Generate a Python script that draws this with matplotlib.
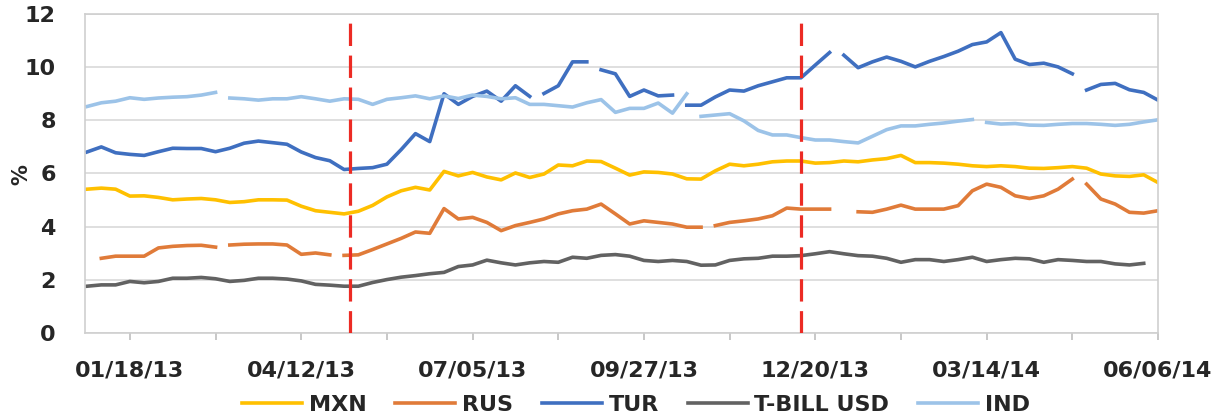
import numpy as np
import pandas as pd
import matplotlib
matplotlib.use("Agg")
from matplotlib import pyplot as plt
import matplotlib.dates as mdates

plt.rcParams['font.family'] = ['DejaVu Sans']
plt.rcParams['font.weight'] = 'bold'

# weekly observations (Fridays)
weeks = pd.date_range("2012-12-28", "2014-06-06", freq="7D")

mxn = [5.41, 5.45, 5.41, 5.15, 5.16, 5.10, 5.01, 5.04, 5.06, 5.01,
       4.91, 4.94, 5.01, 5.01, 5.00, 4.77, 4.60, 4.54, 4.48, 4.58,
       4.80, 5.12, 5.35, 5.48, 5.38, 6.08, 5.91, 6.04, 5.87, 5.76,
       6.02, 5.85, 5.98, 6.32, 6.29, 6.47, 6.45, 6.20, 5.94, 6.06,
       6.04, 5.98, 5.80, 5.79, 6.10, 6.35, 6.29, 6.35, 6.44, 6.47,
       6.47, 6.39, 6.41, 6.47, 6.44, 6.51, 6.56, 6.68, 6.41, 6.41,
       6.39, 6.35, 6.29, 6.26, 6.29, 6.26, 6.20, 6.19, 6.22, 6.26,
       6.20, 5.98, 5.91, 5.89, 5.95, 5.66]

rus = [np.nan, 2.81, 2.89, 2.89, 2.89, 3.20, 3.26, 3.29, 3.30, 3.23,
       3.31, 3.34, 3.35, 3.35, 3.31, 2.96, 3.01, 2.94, 2.92, 2.94,
       3.14, 3.35, 3.56, 3.80, 3.75, 4.68, 4.29, 4.35, 4.16, 3.85,
       4.04, 4.16, 4.29, 4.48, 4.60, 4.66, 4.85, 4.48, 4.10, 4.22,
       4.16, 4.10, 3.98, 3.98, 4.04, 4.16, 4.22, 4.29, 4.41, 4.70,
       4.66, 4.66, 4.66, np.nan, 4.56, 4.54, 4.66, 4.81, 4.66, 4.66,
       4.66, 4.79, 5.35, 5.60, 5.48, 5.16, 5.06, 5.16, 5.41, 5.79,
       5.60, 5.04, 4.85, 4.54, 4.51, 4.60]

tur = [6.81, 7.00, 6.78, 6.72, 6.68, 6.82, 6.95, 6.94, 6.94, 6.82,
       6.95, 7.14, 7.22, 7.16, 7.10, 6.81, 6.60, 6.48, 6.15, 6.19,
       6.22, 6.35, 6.90, 7.50, 7.20, 9.00, 8.60, 8.90, 9.10, 8.72,
       9.30, 8.90, 9.01, 9.30, 10.20, 10.20, 9.90, 9.75, 8.90, 9.14,
       8.92, 8.95, 8.57, 8.57, 8.88, 9.14, 9.10, 9.30, 9.45, 9.60,
       9.60, 10.08, 10.55, 10.45, 9.98, 10.20, 10.38, 10.22, 10.01, 10.22,
       10.40, 10.60, 10.85, 10.95, 11.30, 10.30, 10.10, 10.15, 10.01, 9.75,
       9.14, 9.35, 9.39, 9.15, 9.05, 8.76]

tbill = [1.76, 1.81, 1.81, 1.94, 1.89, 1.94, 2.06, 2.06, 2.09, 2.04,
         1.94, 1.98, 2.06, 2.06, 2.03, 1.96, 1.83, 1.80, 1.76, 1.76,
         1.90, 2.01, 2.10, 2.16, 2.23, 2.28, 2.50, 2.56, 2.74, 2.64,
         2.56, 2.64, 2.69, 2.66, 2.85, 2.81, 2.92, 2.95, 2.89, 2.73,
         2.69, 2.73, 2.69, 2.55, 2.56, 2.73, 2.79, 2.81, 2.89, 2.89,
         2.91, 2.98, 3.06, 2.98, 2.91, 2.89, 2.81, 2.66, 2.76, 2.76,
         2.69, 2.76, 2.85, 2.69, 2.76, 2.81, 2.79, 2.66, 2.76, 2.73,
         2.69, 2.69, 2.60, 2.56, 2.62, np.nan]

ind = [8.52, 8.66, 8.72, 8.85, 8.79, 8.84, 8.87, 8.89, 8.95, 9.05,
       8.84, 8.81, 8.76, 8.81, 8.81, 8.89, 8.81, 8.72, 8.81, 8.79,
       8.60, 8.79, 8.85, 8.92, 8.81, 8.92, 8.82, 8.95, 8.90, 8.81,
       8.85, 8.60, 8.60, 8.55, 8.50, 8.66, 8.78, 8.30, 8.45, 8.45,
       8.65, 8.27, 9.00, 8.15, 8.20, 8.25, 7.98, 7.62, 7.45, 7.45,
       7.35, 7.26, 7.26, 7.20, 7.15, 7.40, 7.65, 7.79, 7.79, 7.85,
       7.90, 7.97, 8.03, 7.92, 7.86, 7.88, 7.82, 7.81, 7.85, 7.88,
       7.88, 7.85, 7.81, 7.85, 7.94, 8.02]

# dates with missing data (breaks in the lines)
mxn_gaps = []
rus_gaps = ["2013-03-05", "2013-04-30", "2013-10-29", "2014-04-29"]
tur_gaps = ["2013-08-06", "2013-09-03", "2013-10-15", "2013-12-31", "2014-04-29"]
tbill_gaps = []
ind_gaps = ["2013-03-05", "2013-10-22", "2014-03-11"]

events = ["2013-05-06", "2013-12-13"]

names = ["MXN", "RUS", "TUR", "T-BILL USD", "IND"]
colors = ["#FFC000", "#E07B39", "#3F6FC0", "#626262", "#9CC3E8"]


def with_gaps(values, gaps):
    s = pd.Series(values, index=weeks, dtype=float)
    for g in gaps:
        s.loc[pd.Timestamp(g)] = np.nan
    return s.sort_index()


fig = plt.figure(figsize=(12.25, 4.19), dpi=100)
ax = fig.add_axes([85 / 1225, 1 - 333 / 419, (1158 - 85) / 1225, (333 - 14) / 419])

series = [(mxn, mxn_gaps), (rus, rus_gaps), (tur, tur_gaps), (tbill, tbill_gaps), (ind, ind_gaps)]
for (vals, gaps), name, col in zip(series, names, colors):
    s = with_gaps(vals, gaps)
    ax.plot(s.index, s.values, color=col, lw=2.6, label=name, solid_joinstyle='round')

for e in events:
    ax.axvline(pd.Timestamp(e), color="#EC2B24", lw=2.3, dashes=(7, 3), zorder=5)

ax.set_ylim(0, 12)
ax.set_yticks(range(0, 13, 2))
ax.set_xlim(pd.Timestamp("2012-12-27"), pd.Timestamp("2014-06-06"))

major = pd.date_range("2013-01-18", "2014-06-06", freq="84D")
minor = pd.date_range("2013-03-01", "2014-06-06", freq="84D")
ax.set_xticks(major)
ax.set_xticks(minor, minor=True)
ax.xaxis.set_major_formatter(mdates.DateFormatter("%m/%d/%y"))

ax.grid(axis='y', color="#d9d9d9", lw=1.2)
ax.set_axisbelow(True)
for sp in ax.spines.values():
    sp.set_color("#cfcfcf")
    sp.set_linewidth(1.2)

ax.tick_params(axis='x', which='both', length=5, width=1.2, color="#bfbfbf",
               labelsize=16, labelcolor="#262626", pad=15)
ax.tick_params(axis='y', length=0, labelsize=16, labelcolor="#262626", pad=21)

fig.text(21 / 1225, 1 - 175 / 419, "%", rotation=90, ha='center', va='center',
         fontsize=15, color="#262626")

fig.legend(loc='center', bbox_to_anchor=(0.519, 1 - 405 / 419), ncol=5, frameon=False,
           fontsize=16, handlelength=2.7, handletextpad=0.3, columnspacing=1.3)
for t in fig.legends[0].get_texts():
    t.set_color("#262626")

fig.savefig("out.png", dpi=100)
